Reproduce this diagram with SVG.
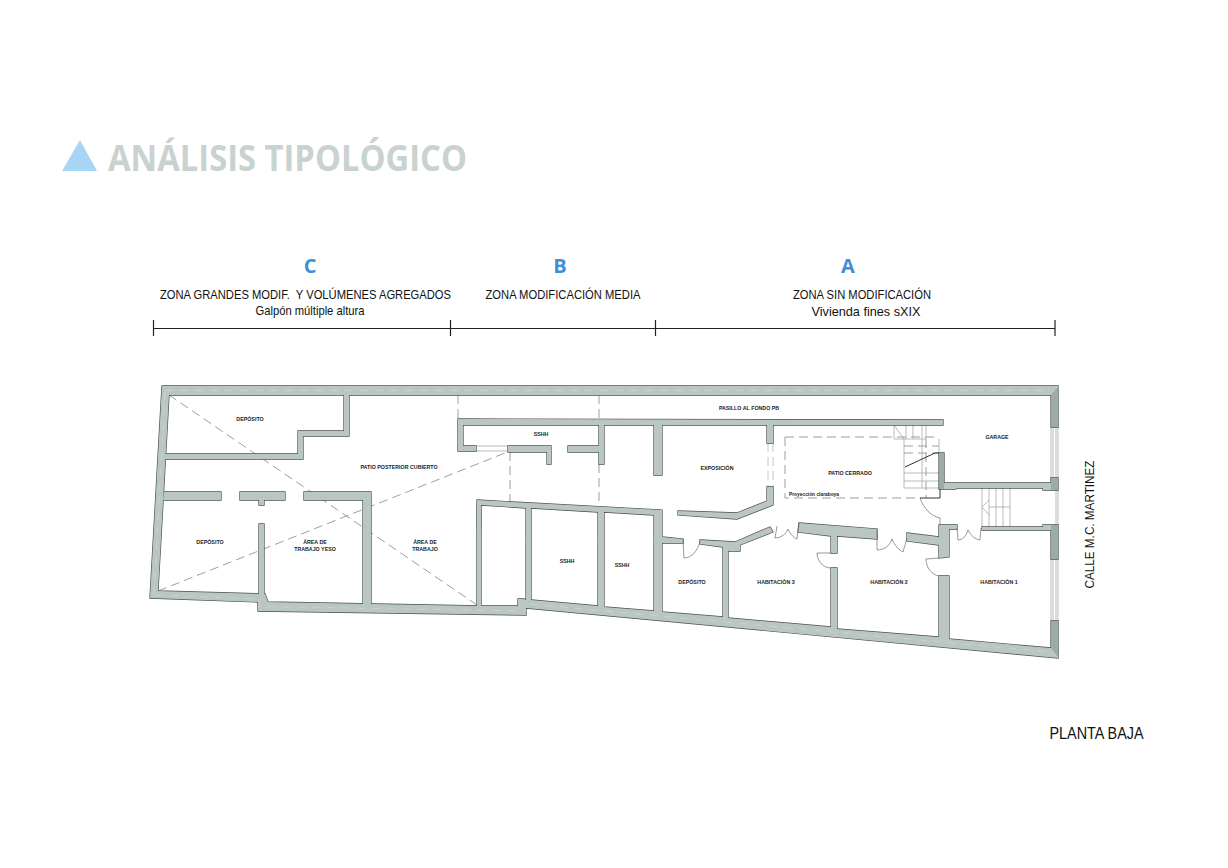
<svg xmlns="http://www.w3.org/2000/svg" xmlns:xlink="http://www.w3.org/1999/xlink" width="1228" height="868" viewBox="0 0 1228 868">
<style>
.ws{fill:#4a5050;stroke:#4a5050;stroke-width:1.3;stroke-linejoin:miter}
.wf{fill:#b9c6c4;stroke:none}
.dk{fill:#9babaa;stroke:none}
.cd{fill:none;stroke:#c9d4d2;stroke-width:1;stroke-dasharray:8 7}
.d{fill:none;stroke:#9a9f9f;stroke-width:1;stroke-dasharray:9 5}
.dl{fill:none;stroke:#b5baba;stroke-width:.8;stroke-dasharray:9 5}
.t{fill:none;stroke:#a5abab;stroke-width:.8}
.dr{fill:none;stroke:#555;stroke-width:.6}
.k{fill:none;stroke:#333;stroke-width:1}
.r{font-family:"Liberation Sans",Arial,sans-serif;font-weight:700;font-size:5.3px;fill:#222;text-anchor:middle}
.l{font-family:"Liberation Sans",Arial,sans-serif;font-size:13px;fill:#111;text-anchor:middle}
.z{font-family:"Open Sans",sans-serif;font-weight:700;font-size:20px;fill:#3f8fd6;text-anchor:middle}
</style>
<defs>
<g id="wallshapes">
<polygon points="1058,427 1058,386 162,386 150,598 258,602 258,611 526,615 526,608 1058,658 1058,621 1051,621 1051,648 949,639 938,637 837,629 831,627 728,618 723,617 662,612 654,611 604,607 598,606 531,600 526,600 524,599 518,599 518,606 481,606 268,602 265,594 158,591 169,395 1051,395 1051,427"/>
<polygon points="344,395 349,395 349,436 303,436 303,459 165,459 165,454 298,454 298,431 344,431"/>
<polygon points="164,492 221,492 221,500 163,500"/>
<polygon points="240,492 285,492 285,500 264,500 264,505 259,505 259,500 240,500"/>
<polygon points="304,492 371,492 371,604 363,604 363,500 304,500"/>
<polygon points="259,524 264,524 264,596 259,596"/>
<polygon points="458,419 943,420 943,425 773,425 773,443 767,443 767,425 662,425 662,475 654,475 654,425 604,425 604,464 599,464 599,452 568,452 568,446 599,446 599,425 463,425 463,446 476,446 476,451 458,451"/>
<polygon points="508,446 551,446 551,464 547,464 547,452 508,452"/>
<polygon points="767,487 773,487 773,505 737,519 678,515 678,511 737,513 767,501"/>
<polygon points="477,500 662,510 662,537 683,539 683,543 662,543 662,614 654,613 654,515 604,512 604,608 598,608 598,512 531,508 531,601 526,601 526,508 481,505 481,607 477,607 477,530 477,505"/>
<polygon points="700,540 735,542 770,527 773,532 740,545 740,551 728,551 728,619 723,618 723,547 700,544"/>
<polygon points="799,523 877,529 877,539 837,536 837,553 831,553 831,536 798,532"/>
<polygon points="831,568 837,568 837,630 831,628"/>
<polygon points="907,533 939,537 939,525 957,525 957,529 949,529 949,557 939,558 939,545 907,541"/>
<polygon points="939,576 949,576 949,640 939,638"/>
<polygon points="939,453 944,453 944,483 1051,483 1051,478 1058,478 1058,490 1043,490 1043,488 957,488 956,489 939,489"/>
<polygon points="982,527 1043,527 1043,525 1058,525 1058,559 1051,559 1051,530 982,530"/>
</g>
</defs>
<g id="title">
<polygon points="62,171 97,171 80,140" fill="#a8d4f6"/>
<text x="108" y="171" font-family="Open Sans,sans-serif" font-weight="700" font-size="36" fill="#c8d2d0" textLength="359" lengthAdjust="spacingAndGlyphs">ANÁLISIS TIPOLÓGICO</text>
</g>
<g id="zones">
<text class="z" x="310" y="273">C</text>
<text class="z" x="560" y="273">B</text>
<text class="z" x="848" y="273">A</text>
<text class="l" x="305.500" y="299" textLength="291" lengthAdjust="spacingAndGlyphs" xml:space="preserve">ZONA GRANDES MODIF.  Y VOLÚMENES AGREGADOS</text>
<text class="l" x="310" y="315" textLength="109" lengthAdjust="spacingAndGlyphs">Galpón múltiple altura</text>
<text class="l" x="563" y="299" textLength="155" lengthAdjust="spacingAndGlyphs">ZONA MODIFICACIÓN MEDIA</text>
<text class="l" x="862" y="299" textLength="138" lengthAdjust="spacingAndGlyphs">ZONA SIN MODIFICACIÓN</text>
<text class="l" x="866" y="316" textLength="109" lengthAdjust="spacingAndGlyphs">Vivienda fines sXIX</text>
<path d="M153.500,328.500H1055M153.500,320V336M450.500,320V336M655.500,320V336M1055,320V336" fill="none" stroke="#222" stroke-width="1.200"/>
</g>
<g id="thin-lines">
<path class="t" d="M1051,427V478M1053,427V478M1056,427V478M1058,427V478M1056,490V525M1058,490V525M1051,559V621M1053,559V621M1056,559V621M1058,559V621"/>
<path class="t" d="M477,505V530M481,505V530M476,446H508M476,451H508"/>
<path class="t" d="M982,488V527M989,488V527M996,488V527M1003,488V527M1010,488V527M989,507H1010M989,500L982,507L989,515"/>
<path class="t" d="M894,425V439M906,425V439M913,425V439M926,425V439M894,425L904,439M894,439H926M904,439V488M939,439V453M904,473H939M904,481H939M904,488H939M922,425V488"/>
<path class="d" d="M904,446H939M904,453H939M458,395V419M599,395V419M599,464V507M510,452V501"/>
<path class="dl" d="M768,443V487M773,443V487"/>
<path class="d" d="M785,437H939M785,437V498H920M926,439V498"/>
<path class="d" d="M169,395L477,605M158,591L510,451"/>
</g>
<use href="#wallshapes" class="ws"/>
<use href="#wallshapes" class="wf"/>
<g id="darker-piers">
<polygon class="dk" points="1051,395 1058,387 1058,427 1051,427"/>
<polygon class="dk" points="1051,478 1058,478 1058,490 1051,490"/>
<polygon class="dk" points="1051,525 1058,525 1058,559 1051,559"/>
<polygon class="dk" points="1051,621 1058,621 1058,657 1051,648"/>
<polygon class="dk" points="939,453 944,453 944,489 939,489"/>
</g>
<g id="wall-centre-lines">
<path class="cd" d="M165,390.500H1050M165,392L154,594M155,595L260,599V606.500L526,611M530,604L1050,652"/>
</g>
<g id="doors">
<path class="k" d="M905,467L935,453L939,453M920,498H940V489"/>
<path class="dr" d="M920,498C924,509 931,516 940,518V525"/>
<path class="dr" d="M683,539L684,558C692,558 698,550 700,541"/>
<path class="dr" d="M777,526L775,538C781,538 786,534 788,529C790,534 794,538 797,539L799,523"/>
<path class="dr" d="M877,529V550C884,550 890,546 892,539C895,546 899,550 903,552L907,538"/>
<path class="dr" d="M957,528L958,540C963,540 966,536 968,530C971,536 975,539 980,540L981,528"/>
<path class="dr" d="M831,553H817C817,561 823,568 831,568"/>
<path class="dr" d="M939,558L926,559C926,568 932,575 939,576"/>
</g>
<g id="room-labels">
<text class="r" x="250" y="421">DEPÓSITO</text>
<text class="r" x="210" y="544">DEPÓSITO</text>
<text class="r" x="315" y="544">ÁREA DE</text>
<text class="r" x="315" y="551">TRABAJO YESO</text>
<text class="r" x="425" y="544">ÁREA DE</text>
<text class="r" x="425" y="551">TRABAJO</text>
<text class="r" x="399" y="469">PATIO POSTERIOR CUBIERTO</text>
<text class="r" x="541" y="436">SSHH</text>
<text class="r" x="567" y="563">SSHH</text>
<text class="r" x="622" y="567">SSHH</text>
<text class="r" x="692" y="584">DEPÓSITO</text>
<text class="r" x="717" y="470">EXPOSICIÓN</text>
<text class="r" x="749" y="410">PASILLO AL FONDO PB</text>
<text class="r" x="776" y="584">HABITACIÓN 3</text>
<text class="r" x="889" y="584">HABITACIÓN 2</text>
<text class="r" x="999" y="584">HABITACIÓN 1</text>
<text class="r" x="850" y="475">PATIO CERRADO</text>
<text class="r" x="814" y="496" style="font-size:5px" textLength="50" lengthAdjust="spacingAndGlyphs">Proyección claraboya</text>
<text class="r" x="997" y="439">GARAGE</text>
</g>
<g id="captions">
<text class="l" transform="translate(1089,524.500) rotate(-90)" y="4.500" textLength="128" lengthAdjust="spacingAndGlyphs">CALLE M.C. MARTINEZ</text>
<text class="l" x="1096.500" y="739" style="font-size:16px" textLength="94" lengthAdjust="spacingAndGlyphs">PLANTA BAJA</text>
</g>
</svg>
